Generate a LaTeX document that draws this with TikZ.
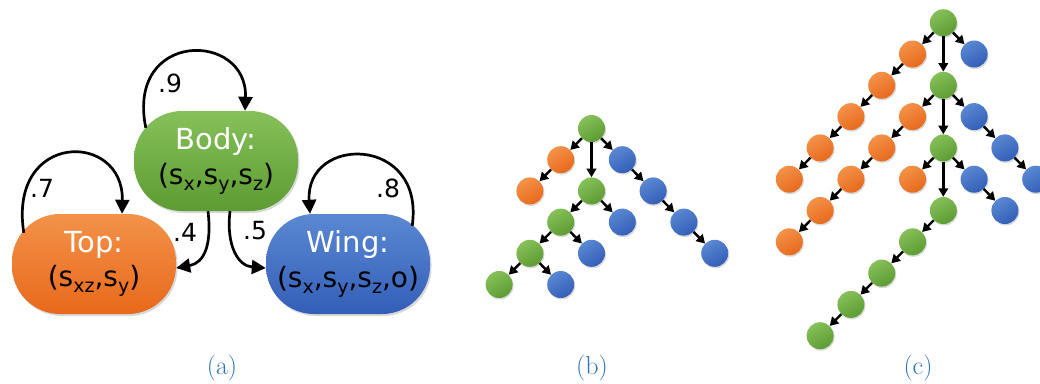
\documentclass[tikz,border=0pt]{standalone}
\usepackage{fontspec}
\newfontfamily\verd{DejaVu Sans}
\usetikzlibrary{
	arrows.meta,
	calc,
	shadows
}

\definecolor{grnL}{HTML}{86C05A}
\definecolor{grnD}{HTML}{5C9C32}
\definecolor{orgL}{HTML}{F39249}
\definecolor{orgD}{HTML}{E8691B}
\definecolor{bluL}{HTML}{5A88D2}
\definecolor{bluD}{HTML}{335EB8}
\definecolor{capblue}{HTML}{2E74B5}

\newcommand{\sbs}[1]{\raisebox{-6pt}{\fontsize{19}{19}\selectfont #1}}
\newcommand{\ttl}[1]{\textcolor{white}{\fontsize{29}{34.5}\selectfont #1}}

\begin{document}
\begin{tikzpicture}[
		x=1pt, y=-1pt,
		partbox/.style={rounded corners=48pt, minimum width=164pt, minimum height=100pt, inner sep=0pt, align=center,
			font=\verd\fontsize{28}{34.5}\selectfont, top color=#1L, bottom color=#1D,
			drop shadow={opacity=0.3, shadow xshift=1.5pt, shadow yshift=-2pt}},
		selfarrow/.style={line width=2.7pt, -{Triangle[length=14pt,width=14pt]}},
		prob/.style={font=\verd\fontsize{25}{25}\selectfont},
		ball/.style={circle, minimum size=27pt, inner sep=0pt,
			drop shadow={opacity=0.3, shadow xshift=1pt, shadow yshift=-1.5pt},
			top color=#1L, bottom color=#1D, shading angle=30},
		tarrow/.style={line width=2.4pt, -{Triangle[length=8.5pt,width=9.5pt]}},
		subcap/.style={text=capblue, font=\fontsize{26}{26}\selectfont}
		]
		\useasboundingbox (0,0) rectangle (1040,383);
		\clip (0,0) rectangle (1040,383);
		
		% (a) part graph
		\node[partbox=grn] (body) at (216,161) {\ttl{Body:}\\(s\sbs{x},s\sbs{y},s\sbs{z})};
		\node[partbox=org] (top) at (94,264) {\ttl{Top:}\\(s\sbs{xz},s\sbs{y})};
		\node[partbox=blu] (wing) at (348,264) {\ttl{Wing:}\\(s\sbs{x},s\sbs{y},s\sbs{z},o)};
		
		\draw[selfarrow] ([shift={(12pt,-17pt)}]body.north west) .. controls +(-20,-98) and +(3,-80) .. ([xshift=29pt]body.north);
		\draw[selfarrow] ([shift={(12pt,-19pt)}]top.north west) .. controls +(-16,-102) and +(2,-83) .. ([xshift=28pt]top.north);
		\draw[selfarrow] ([shift={(-18pt,-12pt)}]wing.north east) .. controls +(13,-91) and +(-5,-79) .. ([xshift=-38pt]wing.north);
		\draw[selfarrow] ([xshift=-8pt]body.south) .. controls +(4,34) and +(28,-5) .. ([yshift=-4pt]top.east);
		\draw[selfarrow] ([xshift=14pt]body.south) .. controls +(-4,34) and +(-28,-2) .. ([yshift=-4pt]wing.west);
		
		\node[prob] (pbody) at (170,83) {.9};
		\node[prob] (ptop) at (42,188) {.7};
		\node[prob] (pwing) at (388,188) {.8};
		\node[prob] (pbt) at (185,232) {.4};
		\node[prob] (pbw) at (255,231) {.5};
		
		% (b) small tree
		\foreach \n/\i/\j/\c in {b0/0/0/grn, b1/-1/1/org, b2/1/1/blu, b3/-2/2/org, b4/0/2/grn, b5/2/2/blu,
			b6/-1/3/grn, b7/1/3/blu, b8/3/3/blu, b9/-2/4/grn, b10/0/4/blu, b11/4/4/blu, b12/-3/5/grn, b13/-1/5/blu}
		\node[ball=\c] (\n) at ({591.5+30.8*\i},{128.5+31.2*\j}) {};
		\foreach \s/\t in {b0/b1, b0/b4, b0/b2, b1/b3, b2/b5, b5/b8, b8/b11, b4/b6, b4/b7, b6/b9, b6/b10, b9/b12, b9/b13}
		\draw[tarrow] (\s) -- (\t);
		
		% (c) large tree
		\foreach \n/\i/\j/\c in {c0/0/0/grn, c1/-1/1/org, c2/1/1/blu, c3/0/2/grn, c4/-2/2/org, c5/-3/3/org,
			c6/-1/3/org, c7/1/3/blu, c8/0/4/grn, c9/-4/4/org, c10/-2/4/org, c11/2/4/blu, c12/-5/5/org,
			c13/-3/5/org, c14/-1/5/org, c15/1/5/blu, c16/3/5/blu, c17/0/6/grn, c18/-4/6/org, c19/2/6/blu,
			c20/-5/7/org, c21/-1/7/grn, c22/-2/8/grn, c23/-3/9/grn, c24/-4/10/grn}
		\node[ball=\c] (\n) at ({943.3+30.8*\i},{22.7+31.3*\j}) {};
		\foreach \s/\t in {c0/c1, c0/c3, c0/c2, c1/c4, c4/c5, c5/c9, c9/c12, c3/c6, c3/c8, c3/c7, c6/c10,
			c10/c13, c13/c18, c18/c20, c7/c11, c11/c16, c8/c14, c8/c17, c8/c15, c15/c19, c17/c21, c21/c22,
			c22/c23, c23/c24}
		\draw[tarrow] (\s) -- (\t);
		
		% captions
		\node[subcap] (capa) at (222,368) {(a)};
		\node[subcap] (capb) at (592,368) {(b)};
		\node[subcap] (capc) at (918,368) {(c)};
		
	\end{tikzpicture}
\end{document}
